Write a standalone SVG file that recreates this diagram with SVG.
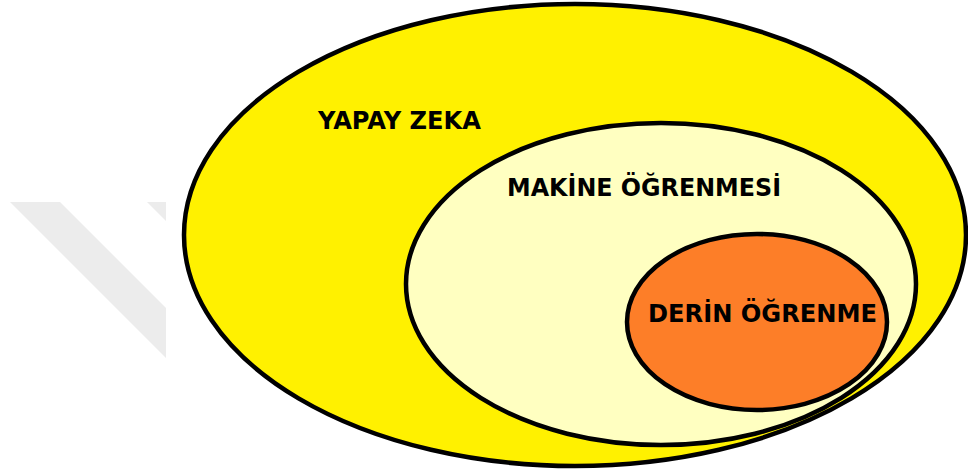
<svg xmlns="http://www.w3.org/2000/svg" width="968" height="472" viewBox="0 0 968 472">
<style>
.ring{stroke:#000;stroke-width:4.5}
.lbl{font-family:"DejaVu Sans","Verdana",sans-serif;font-weight:bold;font-size:24px;fill:#000}
.wm{fill:#ececec}
</style>
<rect width="968" height="472" fill="#fff"/>
<g id="watermark">
<polygon class="wm" points="10,202 60,202 166,308 166,358"/>
<polygon class="wm" points="147,202 166,202 166,221"/>
</g>
<g id="yapay-zeka">
<ellipse class="ring" cx="575" cy="235" rx="391" ry="231" fill="#FFF100"/>
<text class="lbl" x="318" y="129" textLength="163" lengthAdjust="spacingAndGlyphs">YAPAY ZEKA</text>
</g>
<g id="makine-ogrenmesi">
<ellipse class="ring" cx="661" cy="284" rx="255" ry="161" fill="#FFFFC1"/>
<text class="lbl" x="507" y="196" textLength="274" lengthAdjust="spacingAndGlyphs">MAKİNE ÖĞRENMESİ</text>
</g>
<g id="derin-ogrenme">
<ellipse class="ring" cx="757" cy="322" rx="130" ry="88" fill="#FD7E28"/>
<text class="lbl" x="648" y="322" textLength="229" lengthAdjust="spacingAndGlyphs">DERİN ÖĞRENME</text>
</g>
<g id="connectors"></g>
</svg>
